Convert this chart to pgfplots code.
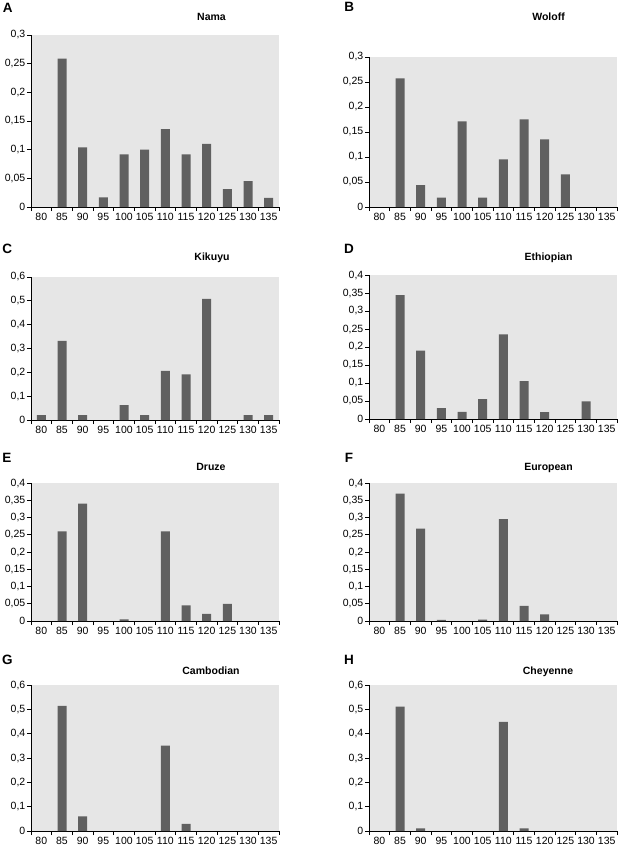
\documentclass[border=0pt]{standalone}
\usepackage{fontspec}
\setmainfont{Liberation Sans}
\usepackage{pgfplots}
\pgfplotsset{compat=1.18}
\definecolor{bg}{RGB}{230,230,230}
\definecolor{barc}{RGB}{96,96,96}
\pgfplotsset{
 panel/.style={
  scale only axis, width=248pt,
  anchor=south west,
  axis x line=bottom, axis y line=left,
  axis line style={-, black, line width=0.8pt},
  axis background/.style={fill=bg},
  xmin=-0.5, xmax=11.5, ymin=0,
  xtick={0,...,11},
  xticklabels={80,85,90,95,100,105,110,115,120,125,130,135},
  major x tick style={draw=none},
  minor xtick={-0.5,0.5,...,11.5},
  tick align=outside,
  minor tick length=4pt,
  major tick length=4pt,
  tick style={black, line width=0.8pt},
  ybar, bar width=9pt,
  ticklabel style={font=\fontsize{10.5}{12}\selectfont},
  xticklabel style={inner sep=1.5pt, anchor=north, text height=7.5pt, text depth=0pt},
  yticklabel style={inner sep=1.5pt},
 },
 s3/.style={ymax=0.3, ytick={0,0.05,0.1,0.15,0.2,0.25,0.3},
   yticklabels={0,{0,05},{0,1},{0,15},{0,2},{0,25},{0,3}}},
 s4/.style={ymax=0.4, ytick={0,0.05,0.1,0.15,0.2,0.25,0.3,0.35,0.4},
   yticklabels={0,{0,05},{0,1},{0,15},{0,2},{0,25},{0,3},{0,35},{0,4}}},
 s6/.style={ymax=0.6, ytick={0,0.1,0.2,0.3,0.4,0.5,0.6},
   yticklabels={0,{0,1},{0,2},{0,3},{0,4},{0,5},{0,6}}},
}
\begin{document}
\begin{tikzpicture}
\useasboundingbox (0,0) rectangle (623pt,-850pt);
% A Nama
\begin{axis}[panel, s3, at={(31pt,-207pt)}, height=172pt]
\addplot[fill=barc, draw=none] coordinates {(1,0.259) (2,0.104) (3,0.017) (4,0.092) (5,0.100) (6,0.136) (7,0.092) (8,0.110) (9,0.031) (10,0.045) (11,0.016)};
\end{axis}
% B Woloff
\begin{axis}[panel, s3, at={(369pt,-207pt)}, height=150pt]
\addplot[fill=barc, draw=none] coordinates {(1,0.257) (2,0.044) (3,0.019) (4,0.171) (5,0.019) (6,0.095) (7,0.175) (8,0.135) (9,0.065)};
\end{axis}
% C Kikuyu
\begin{axis}[panel, s6, at={(31pt,-420pt)}, height=143pt]
\addplot[fill=barc, draw=none] coordinates {(0,0.02) (1,0.332) (2,0.02) (4,0.062) (5,0.02) (6,0.206) (7,0.191) (8,0.508) (10,0.02) (11,0.02)};
\end{axis}
% D Ethiopian
\begin{axis}[panel, s4, at={(369pt,-419pt)}, height=144pt]
\addplot[fill=barc, draw=none] coordinates {(1,0.344) (2,0.190) (3,0.030) (4,0.020) (5,0.055) (6,0.235) (7,0.105) (8,0.019) (10,0.049)};
\end{axis}
% E Druze
\begin{axis}[panel, s4, at={(31pt,-621pt)}, height=138pt]
\addplot[fill=barc, draw=none] coordinates {(1,0.26) (2,0.34) (4,0.005) (6,0.26) (7,0.045) (8,0.021) (9,0.050)};
\end{axis}
% F European
\begin{axis}[panel, s4, at={(369pt,-621pt)}, height=138pt]
\addplot[fill=barc, draw=none] coordinates {(1,0.369) (2,0.268) (3,0.003) (5,0.004) (6,0.295) (7,0.044) (8,0.019)};
\end{axis}
% G Cambodian
\begin{axis}[panel, s6, at={(31pt,-831pt)}, height=146pt]
\addplot[fill=barc, draw=none] coordinates {(1,0.514) (2,0.060) (6,0.351) (7,0.029)};
\end{axis}
% H Cheyenne
\begin{axis}[panel, s6, at={(369pt,-831pt)}, height=146pt]
\addplot[fill=barc, draw=none] coordinates {(1,0.511) (2,0.011) (6,0.449) (7,0.011)};
\end{axis}
% titles
\begin{scope}[every node/.style={font=\bfseries\fontsize{10.5}{12}\selectfont, anchor=base, inner sep=0pt}]
\node at (211.5pt,-20.7pt) {Nama};
\node at (548.5pt,-20.7pt) {Woloff};
\node at (212pt,-260pt) {Kikuyu};
\node at (548.5pt,-260pt) {Ethiopian};
\node at (211pt,-470.7pt) {Druze};
\node at (548.5pt,-470.7pt) {European};
\node at (211pt,-674pt) {Cambodian};
\node at (548pt,-674.3pt) {Cheyenne};
\end{scope}
\begin{scope}[every node/.style={font=\bfseries\fontsize{13.5}{15}\selectfont, inner sep=0pt}]
\node at (7.7pt,-7.8pt) {A};
\node at (349.3pt,-7.2pt) {B};
\node at (7.2pt,-248.5pt) {C};
\node at (349pt,-248.8pt) {D};
\node at (7pt,-457.5pt) {E};
\node at (349pt,-457.5pt) {F};
\node at (7.5pt,-659.5pt) {G};
\node at (349pt,-659.8pt) {H};
\end{scope}
\end{tikzpicture}
\end{document}
